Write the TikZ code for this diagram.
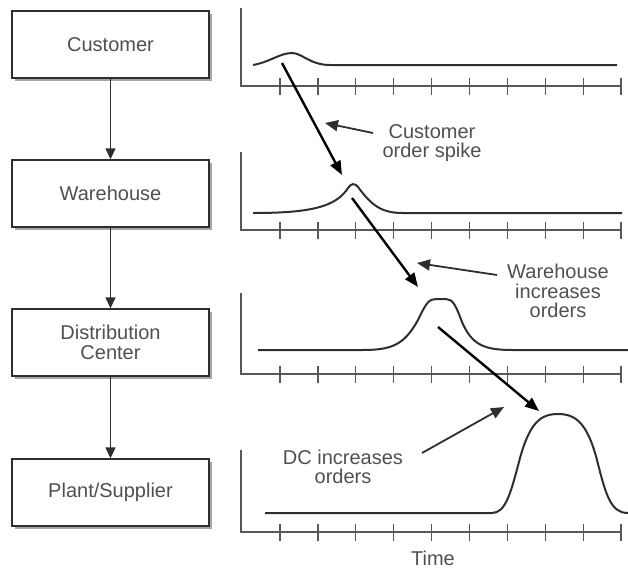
\documentclass[tikz,border=0pt]{standalone}
\usepackage{fontspec}
\setmainfont{Liberation Sans}
\usetikzlibrary{arrows.meta,shadows}
\definecolor{ink}{HTML}{2E2E2E}
\definecolor{txt}{HTML}{505050}
\tikzset{
    box/.style={draw=ink,line width=1.4pt,fill=white,minimum width=197pt,minimum height=67pt,
        align=center,text=txt,font=\fontsize{20}{20}\selectfont,
        drop shadow={shadow xshift=2.5pt,shadow yshift=-2.5pt,fill=black!35,opacity=1}},
    lbl/.style={align=center,text=txt,inner sep=1pt,font=\fontsize{20}{19.5}\selectfont},
    axis/.style={draw=ink!80,line width=1.3pt},
    curve/.style={draw=ink,line width=2pt},
    flow/.style={draw=ink,line width=1.4pt,-{Triangle[length=11pt,width=10pt]}},
    jump/.style={draw=black,line width=2.4pt,-{Triangle[length=14pt,width=11pt]}},
    point/.style={draw=ink,line width=1.8pt,-{Triangle[length=13pt,width=11pt]}}
}
\begin{document}
\begin{tikzpicture}[x=1pt,y=-1pt]
                \useasboundingbox(0,0)rectangle(628,571);
                \node[box](1)at(110.5,44.5){Customer};
                \node[box](2)at(110.5,193.5){Warehouse};
                \node[box](3)at(110.5,342.5){Distribution\\Center};
                \node[box](4)at(110.5,492.5){Plant/Supplier};
                \draw[flow](1)--(2);
                \draw[flow](2)--(3);
                \draw[flow](3)--(4);

                % axes with ticks
                \foreach \top/\ax in {8/86,152/230,293/374,450/532}{
                    \draw[axis](241,\top)--(241,\ax)--(622,\ax);
                    \foreach \i in {0,...,9}
                        \draw[axis](280+37.9*\i,\ax-8.5)--(280+37.9*\i,\ax+8.5);
                }

                % curves
                \draw[curve](253,65)..controls(270,62)and(280,53)..(292,53)
                    ..controls(302,53)and(310,65)..(330,65)--(617,65);
                \draw[curve](253,213)..controls(310,213)and(336,207)..(348,188)
                    ..controls(351,183)and(355,183)..(358,187)
                    ..controls(372,206)and(382,213)..(403,213)--(622,213);
                \draw[curve](258,350)--(362,350)..controls(392,350)and(404,345)..(418,320)
                    ..controls(426,303)and(429,299)..(436,299)--(446,299)
                    ..controls(453,299)and(456,306)..(462,322)
                    ..controls(472,345)and(484,350)..(513,350)--(628,350);
                \draw[curve](265,513)--(492,513)..controls(506,513)and(511,492)..(520,458)
                    ..controls(530,422)and(541,414)..(558,414)
                    ..controls(575,414)and(587,422)..(597,460)
                    ..controls(606,496)and(611,513)..(628,513);

                % propagation arrows
                \coordinate(a1)at(282,63);
                \coordinate(a2)at(342,175);
                \coordinate(b1)at(352,198);
                \coordinate(b2)at(418,287);
                \coordinate(c1)at(438,327);
                \coordinate(c2)at(539,411);
                \draw[jump](a1)--(a2);
                \draw[jump](b1)--(b2);
                \draw[jump](c1)--(c2);

                % notes
                \node[lbl](5)at(432,143){Customer\\order spike};
                \node[lbl](6)at(558,291){Warehouse\\increases\\orders};
                \node[lbl](7)at(343,467){DC increases\\orders};
                \node[lbl](8)at(433,558){Time};
                \coordinate(q1)at(373,133);
                \coordinate(p1)at(325,123);
                \coordinate(q2)at(497,275);
                \coordinate(p2)at(417,263);
                \coordinate(q3)at(422,453);
                \coordinate(p3)at(504,407);
                \draw[point](q1)--(p1);
                \draw[point](q2)--(p2);
                \draw[point](q3)--(p3);
            \end{tikzpicture}
\end{document}
